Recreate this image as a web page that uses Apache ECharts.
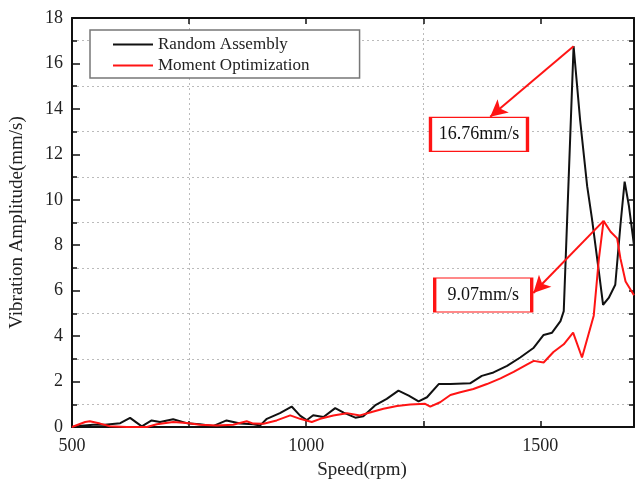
<!DOCTYPE html>
<html>
<head>
<meta charset="utf-8">
<script src="https://cdn.jsdelivr.net/npm/echarts@6/dist/echarts.min.js"></script>
<style>
html, body { margin: 0; padding: 0; background: #fff; }
#chart { width: 635px; height: 485px; }
</style>
</head>
<body>
<div id="chart"></div>
<script>
// Random Assembly (black)
const raSpeed = [500, 520, 545, 570, 603, 624, 649, 670, 688, 716, 745, 773, 801, 830, 859, 887, 902, 916, 944, 969, 987, 1001, 1015, 1037, 1062, 1080, 1105, 1122, 1147, 1172, 1197, 1219, 1240, 1258, 1283, 1308, 1350, 1375, 1400, 1429, 1457, 1486, 1507, 1525, 1543, 1550, 1571, 1585, 1600, 1610, 1625, 1634, 1646, 1660, 1671, 1680, 1689, 1700]
const raAmp = [0, 0.05, 0.1, 0.1, 0.17, 0.4, 0.03, 0.29, 0.22, 0.34, 0.17, 0.12, 0.04, 0.29, 0.15, 0.12, 0.07, 0.36, 0.61, 0.9, 0.5, 0.3, 0.52, 0.44, 0.83, 0.63, 0.41, 0.47, 0.95, 1.24, 1.6, 1.38, 1.13, 1.31, 1.89, 1.89, 1.92, 2.25, 2.4, 2.69, 3.06, 3.49, 4.05, 4.15, 4.66, 5.1, 16.76, 13.5, 10.6, 9.2, 6.84, 5.38, 5.68, 6.26, 8.88, 10.8, 9.75, 8.0]

// Moment Optimization (red)
const moSpeed = [500, 528, 538, 560, 581, 617, 660, 681, 716, 745, 773, 809, 844, 873, 887, 909, 937, 966, 987, 1012, 1030, 1058, 1087, 1115, 1140, 1165, 1194, 1222, 1254, 1265, 1286, 1308, 1329, 1357, 1386, 1415, 1443, 1472, 1486, 1507, 1528, 1550, 1570, 1589, 1614, 1625, 1635, 1650, 1664, 1671, 1682, 1700]
const moAmp = [0, 0.22, 0.25, 0.15, 0.03, 0, 0, 0.12, 0.22, 0.18, 0.1, 0.07, 0.1, 0.25, 0.15, 0.14, 0.29, 0.51, 0.36, 0.22, 0.36, 0.51, 0.61, 0.51, 0.66, 0.8, 0.92, 0.99, 1.02, 0.9, 1.09, 1.41, 1.53, 1.67, 1.89, 2.14, 2.43, 2.76, 2.91, 2.84, 3.3, 3.64, 4.15, 3.06, 4.9, 7.4, 9.07, 8.59, 8.3, 7.42, 6.4, 5.8]

const xLabels = [500, 1000, 1500]

// annotations: [peak speed, peak amp, arrow end speed, arrow end amp, box speed, box amp]
const raNote = [1571, 16.76, 1393, 13.65, 1369, 12.88]
const moNote = [1635, 9.07, 1485, 5.9, 1378, 5.81]
const noteText = ['16.76mm/s', '9.07mm/s']

const serif = '"Liberation Serif", "DejaVu Serif", serif'
const red = '#ff1414'

const pairs = (xs, ys) => xs.map((x, i) => [x, ys[i]])

const note = (n, text) => ({
	markLine: {
		silent: true,
		symbol: ['none', 'arrow'],
		symbolSize: [13, 17],
		label: { show: false },
		lineStyle: { color: red, width: 2, type: 'solid' },
		data: [[{ coord: [n[0], n[1]] }, { coord: [n[2], n[3]] }]],
	},
	markPoint: {
		silent: true,
		symbol: 'rect',
		symbolSize: [97, 34],
		itemStyle: { color: '#fff', borderColor: red, borderWidth: 2 },
		label: { show: true, position: 'inside', formatter: text, color: '#111', fontSize: 18, fontFamily: serif },
		data: [{ coord: [n[4], n[5]] }],
	},
})

const myChart = echarts.init(document.getElementById('chart'))

const axisLine = { show: true, onZero: false, lineStyle: { color: '#111', width: 2 } }
const dotted = { color: '#bbb', width: 1, type: [2, 3] }

const option = {
	animation: false,
	backgroundColor: '#fff',
	grid: { left: 72, right: 1, top: 18, bottom: 55 },
	legend: {
		left: 90,
		top: 30,
		orient: 'vertical',
		padding: [6, 50, 4, 23],
		itemGap: 4,
		itemWidth: 40,
		itemHeight: 2,
		icon: 'rect',
		backgroundColor: '#fff',
		borderColor: '#777',
		borderWidth: 1.5,
		textStyle: { fontFamily: serif, fontSize: 17, color: '#222', lineHeight: 17 },
		data: ['Random Assembly', 'Moment Optimization'],
	},
	xAxis: [
		{
			type: 'value',
			min: 500,
			max: 1700,
			interval: 250,
			name: 'Speed(rpm)',
			nameLocation: 'middle',
			nameGap: 34,
			nameTextStyle: { fontFamily: serif, fontSize: 19, color: '#222', padding: [0, 0, 0, 18] },
			axisLine,
			axisTick: { show: true, inside: true, length: 6, lineStyle: { color: '#111', width: 1.5 } },
			axisLabel: {
				margin: 10,
				fontFamily: serif,
				fontSize: 18,
				color: '#222',
				showMaxLabel: false,
				formatter: (v) => (xLabels.includes(v) ? String(v) : ''),
			},
			splitLine: { show: true, lineStyle: { ...dotted, color: ['rgba(0,0,0,0)', '#bbb'] } },
		},
		{
			type: 'value',
			position: 'top',
			min: 500,
			max: 1700,
			interval: 250,
			axisLine,
			axisTick: { show: true, inside: true, length: 6, lineStyle: { color: '#111', width: 1.5 } },
			axisLabel: { show: false },
			splitLine: { show: false },
		},
	],
	yAxis: [
		{
			type: 'value',
			min: 0,
			max: 18,
			interval: 2,
			name: 'Vibration Amplitude(mm/s)',
			nameLocation: 'middle',
			nameGap: 45,
			nameTextStyle: { fontFamily: serif, fontSize: 19, color: '#222' },
			axisLine,
			axisTick: { show: true, inside: true, length: 8, lineStyle: { color: '#111', width: 1.5 } },
			minorTick: { show: true, splitNumber: 2, length: 5, lineStyle: { color: '#111', width: 1.5 } },
			axisLabel: { margin: 9, fontFamily: serif, fontSize: 18, color: '#222' },
			splitLine: { show: false },
			minorSplitLine: { show: true, lineStyle: dotted },
		},
		{
			type: 'value',
			position: 'right',
			min: 0,
			max: 18,
			interval: 1,
			axisLine,
			axisTick: { show: true, inside: true, length: 5, lineStyle: { color: '#111', width: 1.5 } },
			axisLabel: { show: false },
			splitLine: { show: false },
		},
	],
	series: [
		{
			name: 'Random Assembly',
			type: 'line',
			symbol: 'none',
			color: '#111',
			lineStyle: { width: 2 },
			data: pairs(raSpeed, raAmp),
			...note(raNote, noteText[0]),
		},
		{
			name: 'Moment Optimization',
			type: 'line',
			symbol: 'none',
			color: red,
			lineStyle: { width: 2 },
			data: pairs(moSpeed, moAmp),
			...note(moNote, noteText[1]),
		},
	],
}
option && myChart.setOption(option)
</script>
</body>
</html>
